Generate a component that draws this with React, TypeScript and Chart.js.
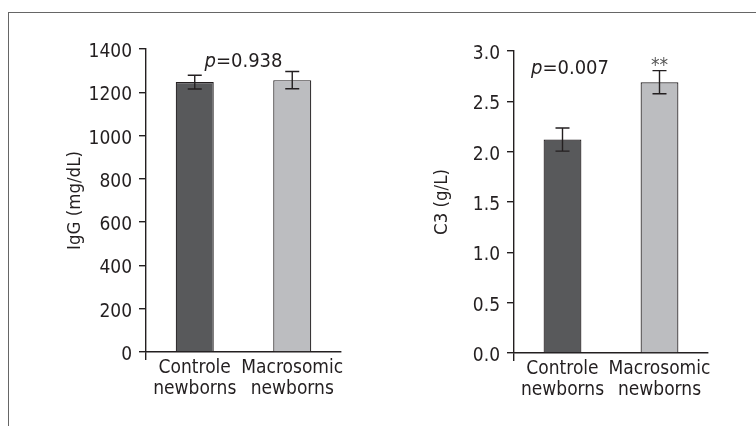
import React, { useEffect, useRef } from "react";
import { Chart, registerables } from "chart.js";

Chart.register(...registerables);

const categories = [["Controle", "newborns"], ["Macrosomic", "newborns"]];
const iggMeans = [1247, 1256];
const iggErrors = [32, 40];
const c3Means = [2.12, 2.69];
const c3Errors = [0.115, 0.115];
const barColors = ["#58595b", "#bcbdc0"];
const iggTickMax = 1400;
const iggTickStep = 200;
const c3TickMax = 3.0;
const c3TickStep = 0.5;

const FONT = "'DejaVu Sans Condensed', 'Liberation Sans Narrow', sans-serif";
const INK = "#231f20";
const FS = 19;

const errorBarPlugin = {
  id: "errorBars",
  afterDatasetsDraw(chart: any) {
    const errs: number[] = chart.options.plugins.errorBars?.errors || [];
    const meta = chart.getDatasetMeta(0);
    const ys = chart.scales.y;
    const vals = chart.data.datasets[0].data as number[];
    const ctx = chart.ctx;
    ctx.save();
    ctx.strokeStyle = INK;
    ctx.lineWidth = 1.4;
    meta.data.forEach((bar: any, i: number) => {
      const top = ys.getPixelForValue(vals[i] + errs[i]);
      const bot = ys.getPixelForValue(vals[i] - errs[i]);
      const x = bar.x;
      ctx.beginPath();
      ctx.moveTo(x, top);
      ctx.lineTo(x, bot);
      ctx.moveTo(x - 7, top);
      ctx.lineTo(x + 7, top);
      ctx.moveTo(x - 7, bot);
      ctx.lineTo(x + 7, bot);
      ctx.stroke();
    });
    ctx.restore();
  },
};

const annotPlugin = {
  id: "annot",
  afterDraw(chart: any) {
    const o = chart.options.plugins.annot;
    if (!o) return;
    const ctx = chart.ctx;
    const area = chart.chartArea;
    ctx.save();
    ctx.fillStyle = INK;
    ctx.textBaseline = "alphabetic";
    ctx.font = `italic ${FS + 1}px ${FONT}`;
    const pw = ctx.measureText("p").width;
    ctx.font = `${FS + 1}px ${FONT}`;
    const rest = "=" + o.pText;
    const rw = ctx.measureText(rest).width;
    let x0: number;
    if (o.pAlign === "center") x0 = (area.left + area.right) / 2 - (pw + rw) / 2;
    else x0 = area.left + o.pDx;
    const y0 = area.top + o.pDy;
    ctx.font = `italic ${FS + 1}px ${FONT}`;
    ctx.textAlign = "left";
    ctx.fillText("p", x0, y0);
    ctx.font = `${FS + 1}px ${FONT}`;
    ctx.fillText(rest, x0 + pw, y0);
    if (o.star) {
      const meta = chart.getDatasetMeta(0);
      const bar = meta.data[o.star.index];
      const vals = chart.data.datasets[0].data as number[];
      const errs: number[] = chart.options.plugins.errorBars.errors;
      const top = chart.scales.y.getPixelForValue(vals[o.star.index] + errs[o.star.index]);
      ctx.fillStyle = "#555";
      ctx.textAlign = "center";
      ctx.font = `${FS}px ${FONT}`;
      ctx.fillText("**", bar.x, top);
    }
    ctx.restore();
  },
};

function makeConfig(p: any) {
  return {
    type: "bar",
    data: {
      labels: categories,
      datasets: [
        {
          data: p.values,
          backgroundColor: barColors,
          borderColor: INK,
          borderWidth: 1.2,
          barPercentage: 0.39,
          categoryPercentage: 1,
        },
      ],
    },
    options: {
      animation: false,
      responsive: false,
      layout: { padding: { left: 0, top: p.top, right: p.right, bottom: 0 } },
      plugins: {
        legend: { display: false },
        tooltip: { enabled: false },
        errorBars: { errors: p.errors },
        annot: p.annot,
      },
      scales: {
        x: {
          offset: true,
          grid: {
            offset: true,
            drawOnChartArea: false,
            drawTicks: true,
            tickLength: 8,
            lineWidth: 1.4,
            color: (c: any) => (c.index === 0 ? INK : "rgba(0,0,0,0)"),
          },
          border: { display: true, color: INK, width: 1.4 },
          ticks: {
            color: INK,
            font: { family: FONT, size: FS, lineHeight: 1.13 },
            padding: -3,
            maxRotation: 0,
            autoSkip: false,
          },
          afterFit: (s: any) => {
            s.height = p.xHeight;
          },
        },
        y: {
          min: 0,
          max: p.max,
          grid: {
            drawOnChartArea: false,
            drawTicks: true,
            tickLength: 7,
            lineWidth: 1.4,
            color: INK,
          },
          border: { display: true, color: INK, width: 1.4 },
          ticks: {
            stepSize: p.step,
            color: INK,
            padding: 7,
            labelOffset: 3,
            font: { family: FONT, size: FS },
            callback: p.fmt,
          },
          title: {
            display: true,
            text: p.title,
            color: INK,
            font: { family: FONT, size: 18.5 },
            padding: { top: p.titlePad, bottom: 0 },
          },
          afterFit: (s: any) => {
            s.width = p.yWidth;
          },
        },
      },
    },
    plugins: [errorBarPlugin, annotPlugin],
  } as any;
}

function Panel({ params, left }: { params: any; left: number }) {
  const ref = useRef<HTMLCanvasElement>(null);
  useEffect(() => {
    const chart = new Chart(ref.current as HTMLCanvasElement, makeConfig(params));
    return () => chart.destroy();
  }, []);
  return (
    <canvas
      ref={ref}
      width={378}
      height={426}
      style={{ position: "absolute", left, top: 0, width: 378, height: 426 }}
    />
  );
}

const leftParams = {
  values: iggMeans,
  errors: iggErrors,
  max: iggTickMax,
  step: iggTickStep,
  fmt: (v: any) => String(v),
  title: "IgG (mg/dL)",
  titlePad: 64,
  yWidth: 146,
  xHeight: 74,
  top: 49,
  right: 37,
  annot: { pText: "0.938", pAlign: "center", pDx: 0, pDy: 17.5 },
};

const rightParams = {
  values: c3Means,
  errors: c3Errors,
  max: c3TickMax,
  step: c3TickStep,
  fmt: (v: any) => Number(v).toFixed(1),
  title: "C3 (g/L)",
  titlePad: 53,
  yWidth: 136,
  xHeight: 73,
  top: 51,
  right: 48,
  annot: { pText: "0.007", pAlign: "left", pDx: 17, pDy: 23, star: { index: 1 } },
};

export default function App() {
  return (
    <div
      style={{
        position: "absolute",
        left: 0,
        top: 0,
        width: 756,
        height: 426,
        background: "#fff",
        overflow: "hidden",
      }}
    >
      <div
        style={{
          position: "absolute",
          left: 8,
          top: 12,
          width: 800,
          height: 500,
          borderLeft: "1px solid #666",
          borderTop: "1px solid #666",
        }}
      />
      <Panel params={leftParams} left={0} />
      <Panel params={rightParams} left={378} />
    </div>
  );
}
